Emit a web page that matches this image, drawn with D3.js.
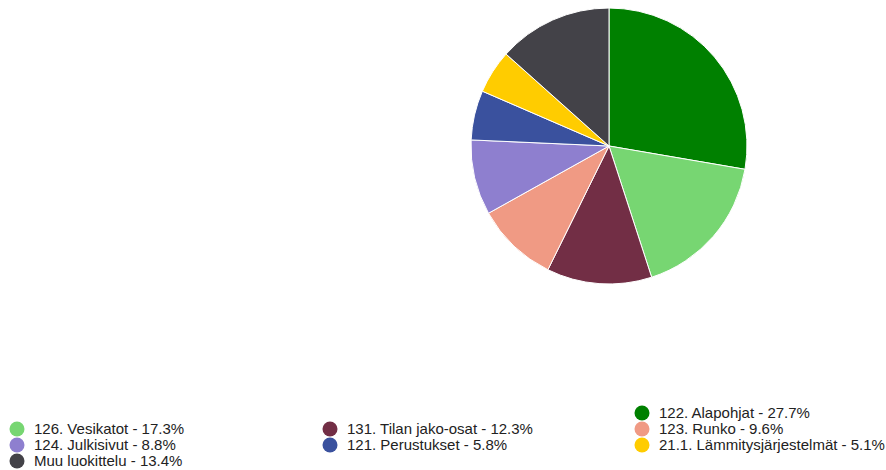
<!DOCTYPE html>
<html>
<head>
<meta charset="utf-8">
<script src="https://cdn.jsdelivr.net/npm/d3@7"></script>
<style>
  body { margin: 0; background: #fff; }
  svg { display: block; }
</style>
</head>
<body>
<div id="chart"></div>
<script>
// chart data
let labels = ["122. Alapohjat", "126. Vesikatot", "131. Tilan jako-osat", "123. Runko",
              "124. Julkisivut", "121. Perustukset", "21.1. Lämmitysjärjestelmät", "Muu luokittelu"];
let values = [27.7, 17.3, 12.3, 9.6, 8.8, 5.8, 5.1, 13.4];
let colors = ["#008000", "#77d672", "#722e45", "#f09a84", "#8e7fcf", "#3a519e", "#ffcc00", "#434248"];

// legend slot for each item: [column, row]
let legendSlots = [[2, 0], [0, 1], [1, 1], [2, 1], [0, 2], [1, 2], [2, 2], [0, 3]];

let svgWidth = 886;
let svgHeight = 470;

let svg = d3.select("#chart")
    .append("svg")
    .attr("width", svgWidth)
    .attr("height", svgHeight)

let radius = 138;
let pieGroup = svg.append("g")
    .attr("transform", `translate(609, 146)`)

let pie = d3.pie().sort(null).value(d => d);
let arc = d3.arc().innerRadius(0).outerRadius(radius);

pieGroup.selectAll("path")
    .data(pie(values))
    .enter()
    .append("path")
    .attr("d", arc)
    .attr("fill", (d, i) => colors[i])
    .attr("stroke", "#fff")
    .attr("stroke-width", 1)

// legend
let colX = d3.scaleOrdinal().domain([0, 1, 2]).range([17, 330, 642]);
let rowY = d3.scaleLinear().domain([0, 3]).range([413, 461]);

let legend = svg.append("g")
    .selectAll("g")
    .data(labels)
    .enter()
    .append("g")
    .attr("transform", (d, i) => `translate(${colX(legendSlots[i][0])}, ${rowY(legendSlots[i][1])})`)

legend.append("circle")
    .attr("r", 7.5)
    .attr("fill", (d, i) => colors[i])

legend.append("text")
    .attr("x", 17)
    .attr("dy", "0.35em")
    .attr("font-family", "Liberation Sans, Arial, sans-serif")
    .attr("font-size", 15)
    .attr("fill", "#222")
    .text((d, i) => `${d} - ${values[i]}%`)
</script>
</body>
</html>
